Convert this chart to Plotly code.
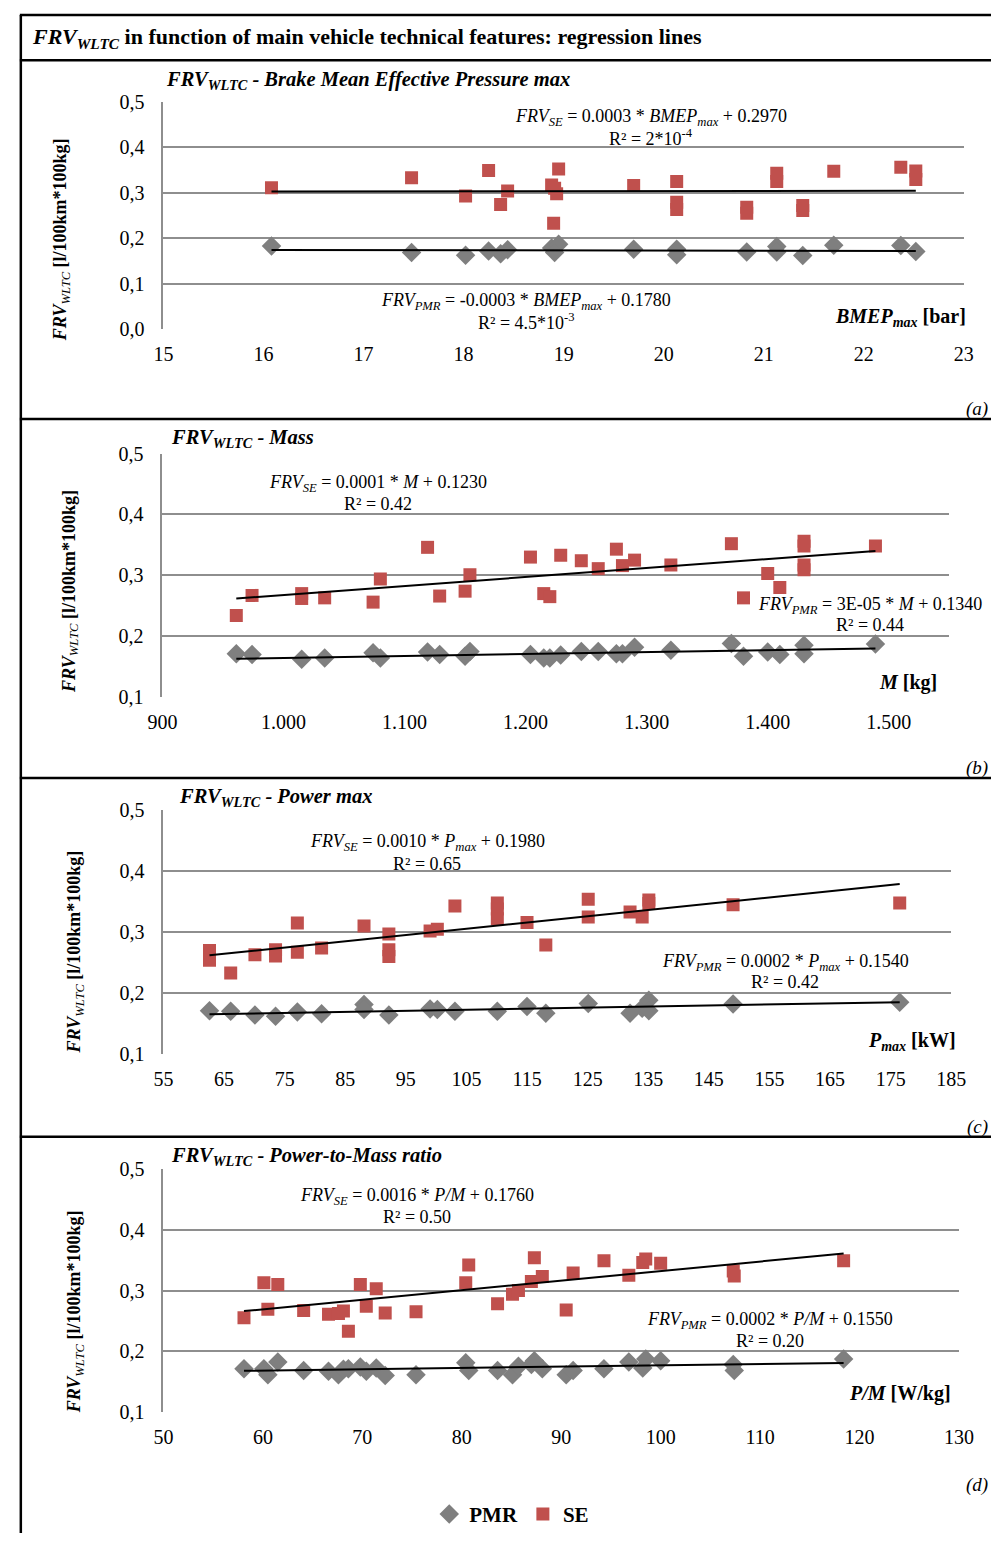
import plotly.graph_objects as go

W, H = 1006, 1544
FONT = "Liberation Serif"

# ---------------- data ----------------
# (a) BMEP max [bar]
bmep_se_x = [16.08, 17.48, 18.02, 18.25, 18.37, 18.44, 18.90, 18.88, 18.95, 18.93, 18.91,
             19.70, 20.13, 20.13, 20.13, 20.83, 20.83, 21.13, 21.13, 21.39, 21.39, 21.70,
             22.37, 22.52, 22.52]
bmep_se_y = [0.311, 0.333, 0.293, 0.349, 0.274, 0.304, 0.233, 0.317, 0.352, 0.298, 0.310,
             0.316, 0.325, 0.279, 0.263, 0.268, 0.255, 0.343, 0.325, 0.272, 0.261, 0.347,
             0.356, 0.348, 0.329]
bmep_pmr_x = [16.08, 17.48, 18.02, 18.25, 18.37, 18.44, 18.88, 18.95, 18.91, 19.70, 20.13,
              20.13, 20.83, 21.13, 21.13, 21.39, 21.70, 22.37, 22.52]
bmep_pmr_y = [0.183, 0.169, 0.163, 0.172, 0.166, 0.175, 0.179, 0.187, 0.169, 0.176, 0.176,
              0.164, 0.170, 0.182, 0.170, 0.162, 0.185, 0.184, 0.171]
bmep_fit_x = [16.08, 22.52]
bmep_se_fit = [0.303, 0.3045]
bmep_pmr_fit = [0.1745, 0.1724]

# (b) Mass [kg]
mass_se_x = [961, 974, 1015, 1015, 1034, 1074, 1080, 1119, 1129, 1150, 1154, 1204, 1215, 1220,
             1229, 1246, 1260, 1275, 1280, 1290, 1320, 1370, 1380, 1400, 1410, 1430, 1430,
             1430, 1430, 1489]
mass_se_y = [0.234, 0.267, 0.270, 0.262, 0.263, 0.256, 0.294, 0.346, 0.266, 0.274, 0.301,
             0.330, 0.270, 0.265, 0.333, 0.324, 0.311, 0.343, 0.316, 0.325, 0.317, 0.352,
             0.263, 0.303, 0.280, 0.356, 0.348, 0.317, 0.309, 0.348]
mass_pmr_x = [961, 974, 1015, 1034, 1074, 1080, 1119, 1129, 1150, 1154, 1204, 1215, 1220, 1229,
              1246, 1260, 1275, 1280, 1290, 1320, 1370, 1380, 1400, 1410, 1430, 1430, 1489]
mass_pmr_y = [0.171, 0.170, 0.162, 0.164, 0.173, 0.164, 0.174, 0.170, 0.167, 0.175, 0.170,
              0.164, 0.164, 0.169, 0.175, 0.175, 0.171, 0.171, 0.182, 0.177, 0.188, 0.167,
              0.174, 0.170, 0.185, 0.171, 0.187]
mass_fit_x = [961, 1489]
mass_se_fit = [0.262, 0.340]
mass_pmr_fit = [0.163, 0.180]

# (c) Power max [kW]
pmax_se_x = [62.6, 62.6, 66.1, 70.1, 73.5, 73.5, 77.1, 77.1, 81.1, 88.1, 92.2, 92.2, 92.2,
             99.0, 100.2, 103.1, 110.1, 110.1, 110.1, 115.0, 118.1, 125.1, 125.1, 132.0,
             134.0, 135.1, 135.1, 149.0, 176.5]
pmax_se_y = [0.270, 0.254, 0.233, 0.263, 0.271, 0.261, 0.315, 0.267, 0.274, 0.310, 0.297,
             0.271, 0.260, 0.302, 0.305, 0.343, 0.348, 0.338, 0.322, 0.316, 0.279, 0.354,
             0.325, 0.333, 0.325, 0.353, 0.347, 0.345, 0.348]
pmax_pmr_x = [62.6, 66.1, 70.1, 73.5, 77.1, 81.1, 88.1, 88.1, 92.2, 99.0, 100.2, 103.1, 110.1,
              115.0, 118.1, 125.1, 132.0, 134.0, 135.1, 135.1, 149.0, 176.5]
pmax_pmr_y = [0.171, 0.170, 0.164, 0.162, 0.169, 0.166, 0.181, 0.173, 0.164, 0.174, 0.173,
              0.170, 0.170, 0.178, 0.167, 0.183, 0.167, 0.175, 0.188, 0.171, 0.182, 0.185]
pmax_fit_x = [62.6, 176.5]
pmax_se_fit = [0.262, 0.379]
pmax_pmr_fit = [0.165, 0.185]

# (d) Power-to-Mass ratio [W/kg]
pm_se_x = [58.1, 60.1, 60.5, 61.5, 64.1, 66.6, 67.6, 68.1, 68.6, 69.8, 70.4, 71.4, 72.3, 75.4,
           80.4, 80.7, 83.6, 85.1, 85.7, 87.0, 87.3, 88.1, 90.5, 91.2, 94.3, 96.8, 98.2, 98.5,
           100.0, 107.3, 107.4, 118.4]
pm_se_y = [0.255, 0.313, 0.269, 0.310, 0.267, 0.261, 0.262, 0.266, 0.233, 0.310, 0.274, 0.303,
           0.263, 0.265, 0.313, 0.342, 0.278, 0.294, 0.300, 0.315, 0.354, 0.323, 0.268, 0.329,
           0.349, 0.325, 0.346, 0.352, 0.345, 0.332, 0.324, 0.349]
pm_pmr_x = [58.1, 60.1, 60.5, 61.5, 64.1, 66.6, 67.6, 68.1, 68.6, 69.8, 70.4, 71.4, 72.3, 75.4,
            80.4, 80.7, 83.6, 85.1, 85.7, 87.0, 87.3, 88.1, 90.5, 91.2, 94.3, 96.8, 98.2, 98.5,
            100.0, 107.3, 107.4, 118.4]
pm_pmr_y = [0.171, 0.171, 0.161, 0.182, 0.168, 0.167, 0.161, 0.170, 0.171, 0.174, 0.167, 0.172,
            0.160, 0.161, 0.181, 0.168, 0.168, 0.161, 0.175, 0.178, 0.184, 0.171, 0.161, 0.168,
            0.171, 0.182, 0.172, 0.187, 0.184, 0.178, 0.168, 0.187]
pm_fit_x = [58.1, 118.4]
pm_se_fit = [0.266, 0.361]
pm_pmr_fit = [0.1675, 0.1805]

# tick labels
ya_vals = [0.0, 0.1, 0.2, 0.3, 0.4, 0.5]
ya_text = ["0,0", "0,1", "0,2", "0,3", "0,4", "0,5"]
yb_vals = [0.1, 0.2, 0.3, 0.4, 0.5]
yb_text = ["0,1", "0,2", "0,3", "0,4", "0,5"]
xa_vals = [15, 16, 17, 18, 19, 20, 21, 22, 23]
xb_vals = [900, 1000, 1100, 1200, 1300, 1400, 1500]
xb_text = ["900", "1.000", "1.100", "1.200", "1.300", "1.400", "1.500"]
xc_vals = [55, 65, 75, 85, 95, 105, 115, 125, 135, 145, 155, 165, 175, 185]
xd_vals = [50, 60, 70, 80, 90, 100, 110, 120, 130]

# ---------------- layout helpers ----------------
def fx(px):
    return px / W

def fy(py):
    return 1 - py / H

SE_COLOR = "#C0504D"
PMR_COLOR = "#7F7F7F"
GRID = "#8E8E8E"

panels = [
    dict(se=(bmep_se_x, bmep_se_y), pmr=(bmep_pmr_x, bmep_pmr_y),
         fit=(bmep_fit_x, bmep_se_fit, bmep_pmr_fit),
         xr=[15, 23], xt=(xa_vals, [str(v) for v in xa_vals]),
         yr=[0, 0.5], yt=(ya_vals, ya_text),
         box=(153, 978, 92, 323)),
    dict(se=(mass_se_x, mass_se_y), pmr=(mass_pmr_x, mass_pmr_y),
         fit=(mass_fit_x, mass_se_fit, mass_pmr_fit),
         xr=[900, 1550], xt=(xb_vals, xb_text),
         yr=[0.1, 0.5], yt=(yb_vals, yb_text),
         box=(152, 963, 449, 696)),
    dict(se=(pmax_se_x, pmax_se_y), pmr=(pmax_pmr_x, pmax_pmr_y),
         fit=(pmax_fit_x, pmax_se_fit, pmax_pmr_fit),
         xr=[55, 185], xt=(xc_vals, [str(v) for v in xc_vals]),
         yr=[0.1, 0.5], yt=(yb_vals, yb_text),
         box=(153, 965, 811, 1058)),
    dict(se=(pm_se_x, pm_se_y), pmr=(pm_pmr_x, pm_pmr_y),
         fit=(pm_fit_x, pm_se_fit, pm_pmr_fit),
         xr=[50, 130], xt=(xd_vals, [str(v) for v in xd_vals]),
         yr=[0.1, 0.5], yt=(yb_vals, yb_text),
         box=(153, 973, 1175, 1421)),
]

fig = go.Figure()
layout_axes = {}
for i, p in enumerate(panels, start=1):
    xs = "x" if i == 1 else f"x{i}"
    ys = "y" if i == 1 else f"y{i}"
    x0, x1, y0, y1 = p["box"]
    fig.add_trace(go.Scatter(x=p["pmr"][0], y=p["pmr"][1], mode="markers", name="<b>PMR</b>",
                             marker=dict(symbol="diamond", size=15, color=PMR_COLOR),
                             showlegend=(i == 1), legendrank=1, xaxis=xs, yaxis=ys))
    fig.add_trace(go.Scatter(x=p["se"][0], y=p["se"][1], mode="markers", name="<b>SE</b>",
                             marker=dict(symbol="square", size=13, color=SE_COLOR),
                             showlegend=(i == 1), legendrank=2, xaxis=xs, yaxis=ys))
    fx_, se_fit, pmr_fit = p["fit"]
    for fy_ in (se_fit, pmr_fit):
        fig.add_trace(go.Scatter(x=fx_, y=fy_, mode="lines",
                                 line=dict(color="black", width=2),
                                 showlegend=False, hoverinfo="skip", xaxis=xs, yaxis=ys))
    xa = "xaxis" if i == 1 else f"xaxis{i}"
    ya = "yaxis" if i == 1 else f"yaxis{i}"
    layout_axes[xa] = dict(domain=[fx(x0), fx(x1)], range=p["xr"], anchor=ys,
                           tickvals=p["xt"][0], ticktext=p["xt"][1],
                           showgrid=False, zeroline=False, showline=False, ticks="",
                           ticklabelstandoff=11,
                           tickfont=dict(family=FONT, size=20, color="black"))
    layout_axes[ya] = dict(domain=[fy(y1), fy(y0)], range=p["yr"], anchor=xs,
                           tickvals=p["yt"][0], ticktext=p["yt"][1],
                           showgrid=True, gridcolor=GRID, gridwidth=2,
                           zeroline=False, showline=True, linecolor=GRID, linewidth=2,
                           ticks="", ticklabelstandoff=13,
                           tickfont=dict(family=FONT, size=20, color="black"))

fig.update_layout(**layout_axes)

# ---------------- annotations ----------------
ann = []

def text(px, py, s, size=18, xanchor="center", angle=0):
    ann.append(dict(x=fx(px), y=fy(py), xref="paper", yref="paper", text=s,
                    showarrow=False, xanchor=xanchor, yanchor="middle", textangle=angle,
                    font=dict(family=FONT, size=size, color="black")))

# title
text(15, 27, "<b><i>FRV</i><sub><i>WLTC</i></sub> in function of main vehicle technical features: regression lines</b>",
     size=22, xanchor="left")

# subtitles
subs = [(154, 70, "Brake Mean Effective Pressure max"), (159, 434, "Mass"),
        (167, 798, "Power max"), (159, 1162, "Power-to-Mass ratio")]
for x, y, s in subs:
    text(x, y, f"<b><i>FRV<sub>WLTC</sub> - {s}</i></b>", size=20.5, xanchor="left")

# y titles
ytit = "<b><i>FRV</i></b><sub><i>WLTC</i></sub><b> [l/100km*100kg]</b>"
for x, y in [(48, 232), (57, 589), (62, 955), (62, 1320)]:
    text(x, y, ytit, size=18, angle=-90)

# in-plot axis labels
text(982, 311, "<b><i>BMEP<sub>max</sub></i> [bar]</b>", size=20, xanchor="right")
text(952, 681, "<b><i>M</i> [kg]</b>", size=20, xanchor="right")
text(972, 1045, "<b><i>P<sub>max</sub></i> [kW]</b>", size=20, xanchor="right")
text(967, 1402, "<b><i>P/M</i> [W/kg]</b>", size=20, xanchor="right")

# equations
eqs = [
    (656, 108, "<i>FRV<sub>SE</sub></i> = 0.0003 * <i>BMEP<sub>max</sub></i> + 0.2970", 128, "R² = 2*10<sup>-4</sup>"),
    (527, 295, "<i>FRV<sub>PMR</sub></i> = -0.0003 * <i>BMEP<sub>max</sub></i> + 0.1780", 315, "R² = 4.5*10<sup>-3</sup>"),
    (374, 479, "<i>FRV<sub>SE</sub></i> = 0.0001 * <i>M</i> + 0.1230", 500, "R² = 0.42"),
    (881, 603, "<i>FRV<sub>PMR</sub></i> = 3E-05 * <i>M</i> + 0.1340", 623, "R² = 0.44"),
    (425, 844, "<i>FRV<sub>SE</sub></i> = 0.0010 * <i>P<sub>max</sub></i> + 0.1980", 865, "R² = 0.65"),
    (794, 965, "<i>FRV<sub>PMR</sub></i> = 0.0002 * <i>P<sub>max</sub></i> + 0.1540", 985, "R² = 0.42"),
    (414, 1203, "<i>FRV<sub>SE</sub></i> = 0.0016 * <i>P/M</i> + 0.1760", 1223, "R² = 0.50"),
    (778, 1328, "<i>FRV<sub>PMR</sub></i> = 0.0002 * <i>P/M</i> + 0.1550", 1349, "R² = 0.20"),
]
for x, y, s, y2, r in eqs:
    text(x, y, s, size=18)
    text(x, y2, r, size=18)

# panel labels
for y, s in [(404, "(a)"), (768, "(b)"), (1132, "(c)"), (1495, "(d)")]:
    text(1005, y, f"<i>{s}</i>", size=19, xanchor="right")

# ---------------- frame lines ----------------
shapes = []
for y in [4, 50, 414, 778, 1142]:
    shapes.append(dict(type="line", xref="paper", yref="paper", x0=fx(5), x1=1,
                       y0=fy(y), y1=fy(y), line=dict(color="black", width=2.5)))
shapes.append(dict(type="line", xref="paper", yref="paper", x0=fx(6), x1=fx(6),
                   y0=fy(4), y1=0, line=dict(color="black", width=2.5)))

fig.update_layout(
    width=W, height=H, margin=dict(l=0, r=0, t=0, b=0),
    paper_bgcolor="white", plot_bgcolor="white",
    annotations=ann, shapes=shapes,
    legend=dict(orientation="h", x=fx(512), y=fy(1525), xanchor="center", yanchor="middle",
                font=dict(family=FONT, size=21, color="black"), itemwidth=30,
                bgcolor="rgba(0,0,0,0)"),
    font=dict(family=FONT),
)

fig.write_html(
    "out.html",
    post_script="document.body.style.margin='0';document.body.style.padding='0';"
                "document.documentElement.style.overflow='hidden';",
)
